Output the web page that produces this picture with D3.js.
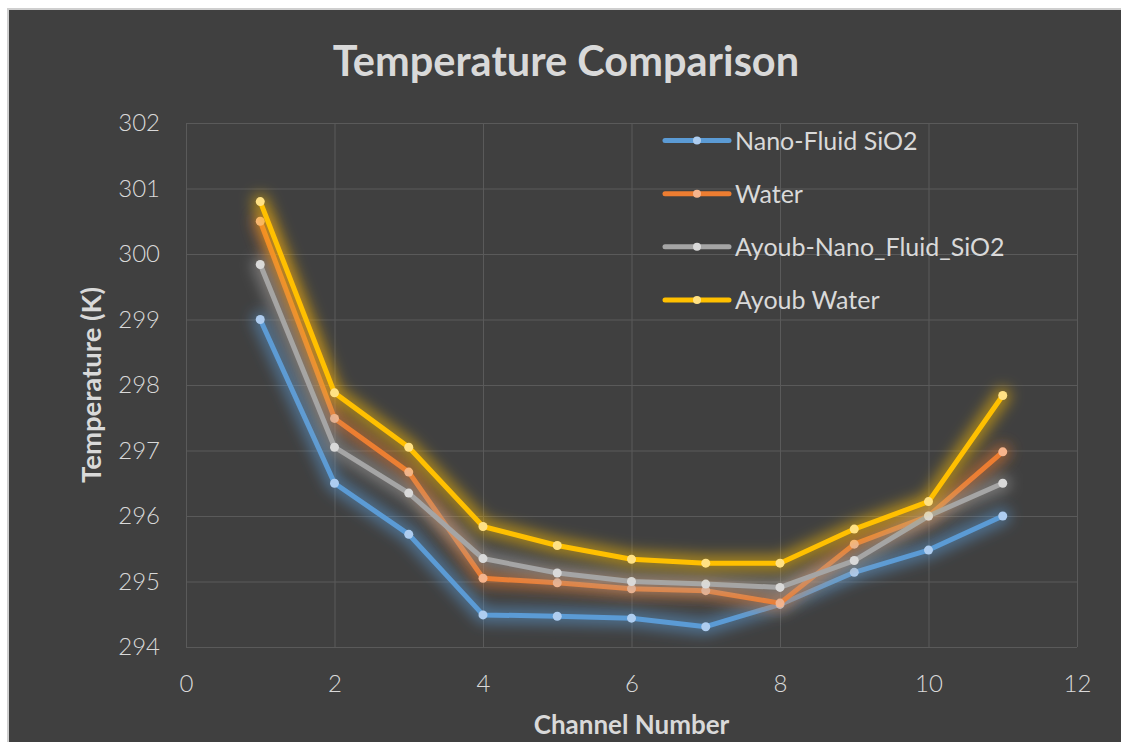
<!DOCTYPE html>
<html>
<head>
<meta charset="utf-8">
<script src="https://cdn.jsdelivr.net/npm/d3@7"></script>
<style>
  html, body { margin: 0; padding: 0; background: #ffffff; }
  svg { display: block; }
  text { font-family: Lato, "Open Sans", sans-serif; fill: #d9d9d9; }
</style>
</head>
<body>
<svg id="chart" width="1121" height="742"></svg>
<script>
// Channel numbers and measured temperatures (K) per cooling fluid
const channels = [1, 2, 3, 4, 5, 6, 7, 8, 9, 10, 11];
const nanoFluidSiO2 = [299.00, 296.50, 295.72, 294.49, 294.47, 294.44, 294.31, 294.65, 295.14, 295.48, 296.00];
const water = [300.50, 297.49, 296.67, 295.05, 294.98, 294.89, 294.86, 294.67, 295.57, 296.00, 296.98];
const ayoubNanoFluidSiO2 = [299.84, 297.05, 296.35, 295.35, 295.13, 295.00, 294.96, 294.91, 295.32, 296.00, 296.50];
const ayoubWater = [300.80, 297.88, 297.05, 295.84, 295.55, 295.34, 295.28, 295.28, 295.80, 296.22, 297.84];

const seriesNames = ["Nano-Fluid SiO2", "Water", "Ayoub-Nano_Fluid_SiO2", "Ayoub Water"];
const xTickValues = [0, 2, 4, 6, 8, 10, 12];
const yTickValues = [294, 295, 296, 297, 298, 299, 300, 301, 302];

const series = [
  { name: seriesNames[0], values: nanoFluidSiO2, color: "#5b9bd5", marker: "#aecdf0" },
  { name: seriesNames[1], values: water, color: "#ed7d31", marker: "#f6b48c" },
  { name: seriesNames[2], values: ayoubNanoFluidSiO2, color: "#a5a5a5", marker: "#d9d9d9" },
  { name: seriesNames[3], values: ayoubWater, color: "#ffc000", marker: "#ffe184" }
];

const svg = d3.select("#chart");

// Dark chart panel with a thin light frame on the top and left edges
svg.append("rect").attr("x", 7).attr("y", 8).attr("width", 1114).attr("height", 734)
  .attr("fill", "#cfcfcf");
svg.append("rect").attr("x", 9).attr("y", 10).attr("width", 1112).attr("height", 732)
  .attr("fill", "#404040");

const plot = { left: 186, right: 1077, top: 123, bottom: 647 };

const x = d3.scaleLinear().domain([0, 12]).range([plot.left, plot.right]);
const y = d3.scaleLinear().domain([294, 302]).range([plot.bottom, plot.top]);

// Soft glow filter shared by the series
const defs = svg.append("defs");
const glow = defs.append("filter").attr("id", "glow")
  .attr("x", "-20%").attr("y", "-20%").attr("width", "140%").attr("height", "140%");
glow.append("feGaussianBlur").attr("stdDeviation", 7);

// Gridlines and tick labels
const yAxis = d3.axisLeft(y).tickValues(yTickValues).tickFormat(d3.format("d"))
  .tickSize(-(plot.right - plot.left)).tickPadding(26);
const xAxis = d3.axisBottom(x).tickValues(xTickValues).tickFormat(d3.format("d"))
  .tickSize(-(plot.bottom - plot.top)).tickPadding(28);

const gy = svg.append("g").attr("transform", `translate(${plot.left},0)`).call(yAxis);
const gx = svg.append("g").attr("transform", `translate(0,${plot.bottom})`).call(xAxis);
[gx, gy].forEach(g => {
  g.select(".domain").remove();
  g.selectAll(".tick line").attr("stroke", "#5a5a5a").attr("stroke-width", 1);
  g.selectAll(".tick text").attr("font-family", "Lato, sans-serif")
    .attr("font-size", 24).attr("font-weight", 300).attr("fill", "#d9d9d9");
});

// Series lines with glow and markers
const line = d3.line().x((d, i) => x(channels[i])).y(d => y(d));

series.forEach(s => {
  const g = svg.append("g");
  g.append("path").datum(s.values).attr("d", line)
    .attr("fill", "none").attr("stroke", s.color).attr("stroke-width", 16)
    .attr("stroke-opacity", 0.55).attr("stroke-linejoin", "round").attr("stroke-linecap", "round")
    .attr("filter", "url(#glow)");
  g.append("path").datum(s.values).attr("d", line)
    .attr("fill", "none").attr("stroke", s.color).attr("stroke-width", 5)
    .attr("stroke-linejoin", "round").attr("stroke-linecap", "round");
  g.selectAll("circle").data(s.values).join("circle")
    .attr("cx", (d, i) => x(channels[i])).attr("cy", d => y(d))
    .attr("r", 4.5).attr("fill", s.marker);
});

// Legend
const legendY = d3.scalePoint().domain(seriesNames).range([140.5, 300]);
series.forEach(s => {
  const ly = legendY(s.name);
  const g = svg.append("g");
  g.append("line").attr("x1", 665).attr("x2", 729).attr("y1", ly).attr("y2", ly)
    .attr("stroke", s.color).attr("stroke-width", 10).attr("stroke-opacity", 0.35)
    .attr("filter", "url(#glow)");
  g.append("line").attr("x1", 665).attr("x2", 729).attr("y1", ly).attr("y2", ly)
    .attr("stroke", s.color).attr("stroke-width", 5).attr("stroke-linecap", "round");
  g.append("circle").attr("cx", 697).attr("cy", ly).attr("r", 4).attr("fill", s.marker);
  g.append("text").attr("x", 735).attr("y", ly + 9)
    .attr("font-size", 25).text(s.name);
});

// Titles
svg.append("text").attr("x", 566).attr("y", 76).attr("text-anchor", "middle")
  .attr("font-size", 41.5).attr("font-weight", 700).text("Temperature Comparison");
svg.append("text").attr("x", (plot.left + plot.right) / 2).attr("y", 734)
  .attr("text-anchor", "middle").attr("font-size", 26).attr("font-weight", 700)
  .text("Channel Number");
svg.append("text").attr("transform", `translate(101,${(plot.top + plot.bottom) / 2}) rotate(-90)`)
  .attr("text-anchor", "middle").attr("font-size", 27.5).attr("font-weight", 700)
  .text("Temperature (K)");
</script>
</body>
</html>
